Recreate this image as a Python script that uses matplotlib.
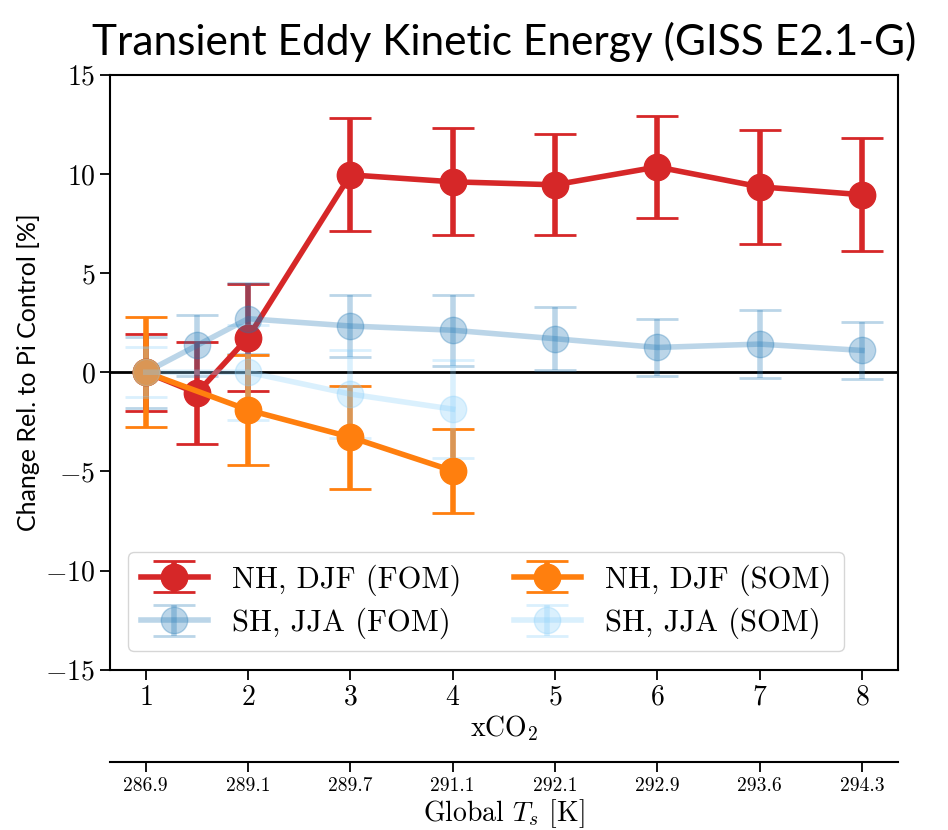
import matplotlib.pyplot as plt
from matplotlib.ticker import FuncFormatter
import numpy as np

plt.rcParams['font.family'] = 'serif'
plt.rcParams['font.serif'] = ['cmr10', 'DejaVu Serif']
plt.rcParams['mathtext.fontset'] = 'cm'
plt.rcParams['axes.formatter.use_mathtext'] = True

# data
x_fom = [1, 1.5, 2, 3, 4, 5, 6, 7, 8]
x_som = [1, 2, 3, 4]

nh_fom = [0.0, -1.05, 1.75, 9.95, 9.6, 9.45, 10.35, 9.35, 8.95]
nh_fom_err = [1.93, 2.55, 2.7, 2.85, 2.7, 2.55, 2.57, 2.87, 2.84]

sh_fom = [0.0, 1.35, 2.7, 2.33, 2.12, 1.69, 1.25, 1.42, 1.1]
sh_fom_err = [1.78, 1.55, 1.8, 1.58, 1.78, 1.6, 1.42, 1.7, 1.45]

nh_som = [0.0, -1.9, -3.27, -4.97]
nh_som_err = [2.78, 2.78, 2.6, 2.1]

sh_som = [0.0, 0.0, -1.1, -1.86]
sh_som_err = [1.25, 2.4, 2.2, 2.48]

co2_ticks = [1, 2, 3, 4, 5, 6, 7, 8]
ts_labels = ['286.9', '289.1', '289.7', '291.1', '292.1', '292.9', '293.6', '294.3']

fig = plt.figure(figsize=(9.48, 8.3), dpi=100)
ax = fig.add_axes([0.116, 0.193, 0.831, 0.717])

style = dict(marker='o', markersize=19, lw=4, elinewidth=4, capsize=15, capthick=2)

ax.errorbar(x_fom, nh_fom, yerr=nh_fom_err, color='tab:red',
            label='NH, DJF (FOM)', **style)
ax.errorbar(x_fom, sh_fom, yerr=sh_fom_err, color='tab:blue', alpha=0.3,
            label='SH, JJA (FOM)', **style)
ax.errorbar(x_som, nh_som, yerr=nh_som_err, color='tab:orange',
            label='NH, DJF (SOM)', **style)
ax.errorbar(x_som, sh_som, yerr=sh_som_err, color='lightskyblue', alpha=0.3,
            label='SH, JJA (SOM)', **style)

ax.axhline(0, color='black', lw=2, zorder=1.5)

ax.set_ylim(-15, 15)
ax.set_xlim(0.65, 8.35)
ax.set_xticks(co2_ticks)
ax.set_yticks([-15, -10, -5, 0, 5, 10, 15])
fmt = FuncFormatter(lambda v, p: r'$%g$' % v)
ax.xaxis.set_major_formatter(fmt)
ax.yaxis.set_major_formatter(fmt)
ax.tick_params(labelsize=20, length=7, width=1.3)
for s in ax.spines.values():
    s.set_linewidth(1.5)

ax.set_xlabel(r'xCO$_2$', fontsize=20, labelpad=2)
ax.set_ylabel('Change Rel. to Pi Control [%]', fontsize=18,
              family=['Lato', 'DejaVu Sans'])
ax.set_title('Transient Eddy Kinetic Energy (GISS E2.1-G)', fontsize=30.5,
             family=['Lato', 'DejaVu Sans'], pad=14)

ax.legend(loc='lower left', ncol=2, fontsize=22, handlelength=2.2,
          columnspacing=1.7, borderaxespad=0.6, labelspacing=0.4)

# second x axis with the global mean surface temperature
sec = ax.secondary_xaxis(-0.155)
sec.set_xticks(co2_ticks, labels=ts_labels)
sec.tick_params(labelsize=14, length=7, width=1.3)
sec.spines['bottom'].set_linewidth(1.5)
sec.set_xlabel(r'Global $T_s$ [K]', fontsize=20, labelpad=2)

fig.savefig('out.png', dpi=100)
